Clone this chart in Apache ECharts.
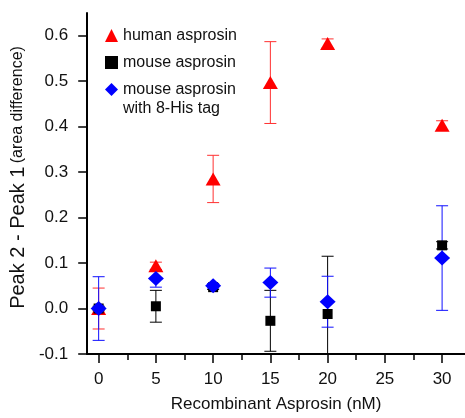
<!DOCTYPE html>
<html>
<head>
<meta charset="utf-8">
<script src="https://cdn.jsdelivr.net/npm/echarts@6/dist/echarts.min.js"></script>
<style>html,body{margin:0;padding:0;background:#fff}#c{width:465px;height:418px}</style>
</head>
<body>
<div id="c"></div>
<script>
const doses = [0, 5, 10, 15, 20, 30];
const humanVals = [0, 0.094, 0.285, 0.497, 0.583, 0.403];
const humanErr = [0.045, 0.008, 0.052, 0.09, 0.01, 0.01];
const mouseVals = [0, 0.005, 0.047, -0.027, -0.012, 0.139];
const mouseErr = [0.005, 0.035, 0.005, 0.067, 0.127, 0.008];
const hisVals = [0, 0.066, 0.05, 0.057, 0.015, 0.111];
const hisErr = [0.07, 0.019, 0.005, 0.032, 0.056, 0.115];
const xTicks = [0, 5, 10, 15, 20, 25, 30];
const xMinorTicks = [2.5, 7.5, 12.5, 17.5, 22.5, 27.5];
const yTicks = [-0.1, 0, 0.1, 0.2, 0.3, 0.4, 0.5, 0.6];

const FONT = '"Liberation Sans", Arial, sans-serif';

function pts(vals) { return doses.map((d, i) => [d, vals[i]]); }
function errData(vals, err) { return doses.map((d, i) => [d, vals[i] - err[i], vals[i] + err[i]]); }
function errSeries(name, vals, err, color) {
  return {
    type: 'custom', name: name + ' err', xAxisIndex: 0, yAxisIndex: 0, clip: true, z: 1,
    silent: true, legendHoverLink: false,
    data: errData(vals, err),
    encode: { x: 0, y: [1, 2] },
    renderItem: function (params, api) {
      const x = api.value(0);
      const lo = api.coord([x, api.value(1)]);
      const hi = api.coord([x, api.value(2)]);
      const hw = 6;
      const style = { stroke: color, lineWidth: 1 };
      return {
        type: 'group',
        children: [
          { type: 'line', shape: { x1: lo[0], y1: lo[1], x2: hi[0], y2: hi[1] }, style: style },
          { type: 'line', shape: { x1: lo[0] - hw, y1: lo[1], x2: lo[0] + hw, y2: lo[1] }, style: style },
          { type: 'line', shape: { x1: hi[0] - hw, y1: hi[1], x2: hi[0] + hw, y2: hi[1] }, style: style }
        ]
      };
    }
  };
}

const chart = echarts.init(document.getElementById('c'));
chart.setOption({
  animation: false,
  textStyle: { fontFamily: FONT },
  grid: { left: 87, right: 0, top: 13, bottom: 58, containLabel: false },
  legend: {
    orient: 'vertical', left: 105, top: 27, padding: 0, itemGap: 10,
    itemWidth: 13, itemHeight: 13,
    textStyle: { fontSize: 16, color: '#111', fontFamily: FONT, lineHeight: 17 },
    data: ['human asprosin', 'mouse asprosin', 'mouse asprosin with 8-His tag'],
    formatter: function (n) { return n === 'mouse asprosin with 8-His tag' ? 'mouse asprosin' : n; }
  },
  graphic: [{
    type: 'text', left: 123, top: 101,
    style: { text: 'with 8-His tag', font: '16px ' + FONT, fill: '#111' }
  }],
  xAxis: [{
    type: 'value', min: -1, max: 32,
    name: 'Recombinant Asprosin (nM)', nameLocation: 'middle', nameGap: 42,
    nameTextStyle: { fontSize: 17, color: '#111', fontFamily: FONT },
    axisLine: { show: true, onZero: false, lineStyle: { color: '#000', width: 2 } },
    axisTick: { show: true, inside: false, length: 9, customValues: xTicks, lineStyle: { color: '#000', width: 1.5 } },
    axisLabel: { customValues: xTicks, margin: 17, fontSize: 17, color: '#111', fontFamily: FONT },
    splitLine: { show: false }
  }, {
    type: 'value', min: -1, max: 32, position: 'bottom',
    axisLine: { show: false, onZero: false },
    axisTick: { show: true, inside: false, length: 6, customValues: xMinorTicks, lineStyle: { color: '#000', width: 1.5 } },
    axisLabel: { show: false },
    splitLine: { show: false }
  }],
  yAxis: {
    type: 'value', min: -0.1, max: 0.65,
    name: '{a|Peak 2 - Peak 1} {b|(area difference)}', nameLocation: 'middle', nameGap: 56,
    nameTextStyle: {
      padding: [0, 0, 0, 12],
      rich: {
        a: { fontSize: 20, color: '#111', fontFamily: FONT },
        b: { fontSize: 16, color: '#111', fontFamily: FONT }
      }
    },
    axisLine: { show: true, onZero: false, lineStyle: { color: '#000', width: 2 } },
    axisTick: { show: true, inside: false, length: 9, customValues: yTicks, lineStyle: { color: '#000', width: 1.5 } },
    axisLabel: { customValues: yTicks, margin: 19, fontSize: 17, color: '#111', fontFamily: FONT,
      formatter: function (v) { return Number(v).toFixed(1); } },
    splitLine: { show: false }
  },
  series: [
    errSeries('human asprosin', humanVals, humanErr, '#ff3030'),
    errSeries('mouse asprosin', mouseVals, mouseErr, '#000000'),
    errSeries('mouse asprosin with 8-His tag', hisVals, hisErr, '#1010ff'),
    { type: 'scatter', name: 'human asprosin', symbol: 'triangle', symbolSize: [15, 13], z: 3,
      itemStyle: { color: '#ff0000', opacity: 1 }, data: pts(humanVals) },
    { type: 'scatter', name: 'mouse asprosin', symbol: 'rect', symbolSize: 10, z: 4,
      itemStyle: { color: '#000000', opacity: 1 }, data: pts(mouseVals) },
    { type: 'scatter', name: 'mouse asprosin with 8-His tag', symbol: 'diamond', symbolSize: [16, 15], z: 5,
      itemStyle: { color: '#0000ff', opacity: 1 }, data: pts(hisVals) }
  ]
});
</script>
</body>
</html>
